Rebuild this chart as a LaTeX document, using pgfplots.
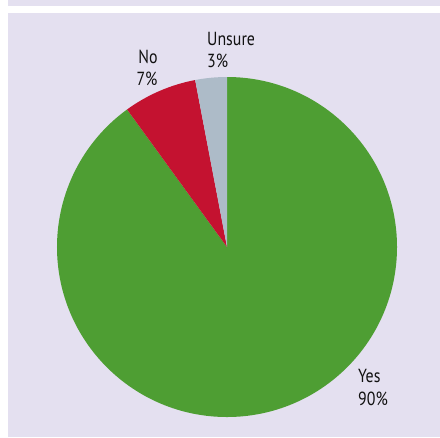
\documentclass[border=0pt]{standalone}
\usepackage{pgfplots}
\usepackage{pgfplotstable}
\pgfplotsset{compat=1.18}
\usepackage{fontspec}
\setmainfont{PT Sans}
\definecolor{bgpanel}{HTML}{E4E0F0}
\definecolor{yesgreen}{HTML}{4E9E33}
\definecolor{nored}{HTML}{C41230}
\definecolor{unsuregray}{HTML}{ADBBC8}
\definecolor{txt}{HTML}{111111}
\pgfplotstableread{
label value
Yes 90
No 7
Unsure 3
}\piedata
\pgfplotstablegetelem{0}{value}\of\piedata \let\vYes\pgfplotsretval
\pgfplotstablegetelem{1}{value}\of\piedata \let\vNo\pgfplotsretval
\pgfplotstablegetelem{2}{value}\of\piedata \let\vUnsure\pgfplotsretval
\pgfmathsetmacro\aStart{90}
\pgfmathsetmacro\aYes{90-3.6*\vYes}
\pgfmathsetmacro\aNo{\aYes-3.6*\vNo}
\pgfmathsetmacro\aUnsure{\aNo-3.6*\vUnsure}
\begin{document}
\begin{tikzpicture}
\begin{axis}[
  at={(0,0)}, anchor=south west,
  width=440bp, height=437bp, scale only axis,
  xmin=0, xmax=440, ymin=0, ymax=437, y dir=reverse,
  hide axis, clip=false,
]
% background panel
\fill[white] (axis cs:0,0) rectangle (axis cs:440,437);
\fill[bgpanel] (axis cs:8,0) rectangle (axis cs:440,437);
\fill[white] (axis cs:8,6) rectangle (axis cs:440,13);
% pie slices
\fill[yesgreen] (axis cs:227,247) -- ++(\aStart:170bp) arc[start angle=\aStart, end angle=\aYes, radius=170bp] -- cycle;
\fill[nored] (axis cs:227,247) -- ++(\aYes:170bp) arc[start angle=\aYes, end angle=\aNo, radius=170bp] -- cycle;
\fill[unsuregray] (axis cs:227,247) -- ++(\aNo:170bp) arc[start angle=\aNo, end angle=\aUnsure, radius=170bp] -- cycle;
% labels
\begin{scope}[every node/.style={inner sep=0pt, text=txt, xscale=0.84, font=\fontsize{19}{22}\selectfont}]
\node[anchor=base west] at (axis cs:207,45) {Unsure};
\node[anchor=base west] at (axis cs:207,67) {3\%};
\node[anchor=base] at (axis cs:148,63) {No};
\node[anchor=base] at (axis cs:147,85) {7\%};
\node[anchor=base west] at (axis cs:358,382) {Yes};
\node[anchor=base west] at (axis cs:358,405) {90\%};
\end{scope}
\end{axis}
\end{tikzpicture}
\end{document}
